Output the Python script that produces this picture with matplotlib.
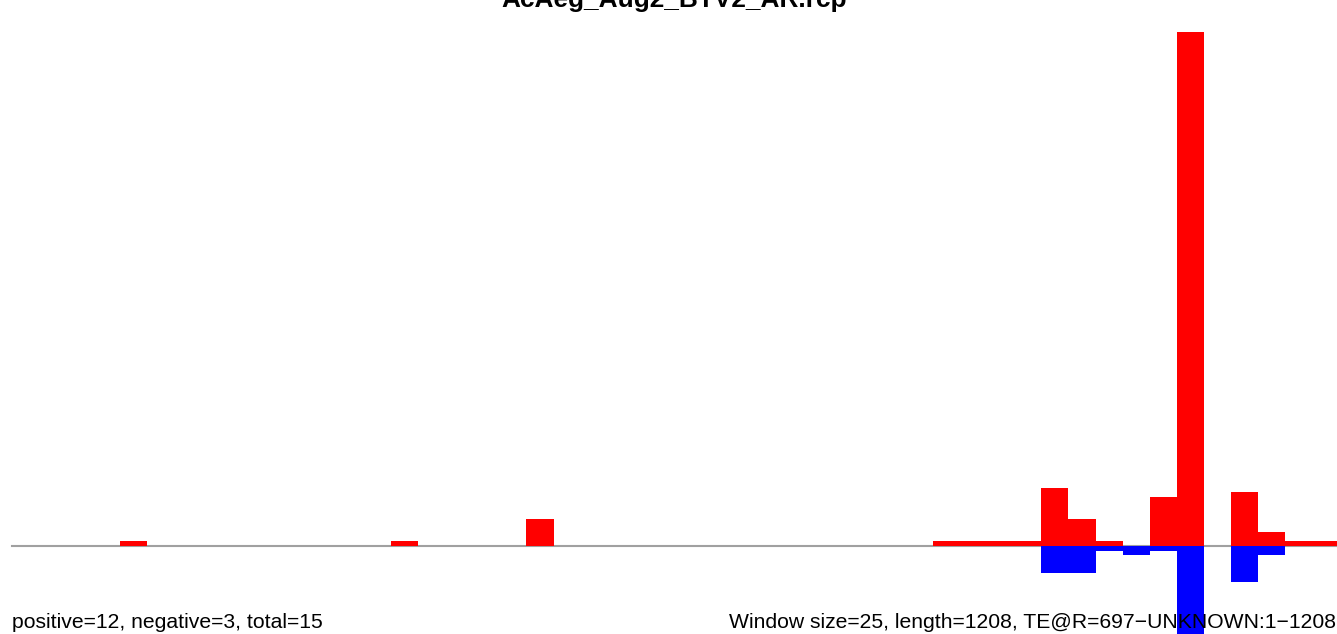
import numpy as np
import matplotlib
matplotlib.use("Agg")
import matplotlib.pyplot as plt

plt.rcParams['font.family'] = ['Liberation Sans', 'DejaVu Sans']

titel = "AcAeg_Aug2_BTV2_AR.rcp"
okno = 25
dlugosc = 1208

# indeksy okien (po 25 bp) i wartosci slupkow
okna_plus = [4, 14, 19, 34, 35, 36, 37, 38, 39, 40, 42, 43, 45, 46, 47, 48]
wart_plus = [1.1, 1.1, 6, 1.1, 1.1, 1.1, 1.1, 13, 6, 1.1, 11, 115, 12, 3.1, 1.1, 1.1]
okna_minus = [38, 39, 40, 41, 42, 43, 45, 46]
wart_minus = [6, 6, 1.1, 2, 1.1, 25, 8, 2]

tekst_lewy = "positive=12, negative=3, total=15"
tekst_prawy = "Window size=25, length=1208, TE@R=697\u2212UNKNOWN:1\u22121208"

fig = plt.figure(figsize=(13.37, 6.34), dpi=100)
ax = fig.add_axes([0, 0, 1, 1])
ax.axis("off")

x_plus = np.array(okna_plus) * okno
x_minus = np.array(okna_minus) * okno
ax.plot([0, 1300], [0, 0], color="#a0a0a0", lw=1.5, zorder=1)
ax.bar(x_plus, wart_plus, width=okno, align="edge", color="red", zorder=2)
ax.bar(x_minus, -np.array(wart_minus), width=okno, align="edge", color="blue", zorder=2)

# skala: 1.084 px na bp, 4.47 px na jednostke
ax.set_xlim(-10.7, (1337 - 11.6) / 1.084)
ax.set_ylim(-(634 - 546) / 4.47, 546 / 4.47)

fig.text(674 / 1337, 1 - 7.3 / 634, titel, ha="center", va="baseline",
         fontsize=18.9, fontweight="bold")
fig.text(12 / 1337, 1 - 628.5 / 634, tekst_lewy, ha="left", va="baseline",
         fontsize=15.2, zorder=5)
fig.text(729 / 1337, 1 - 628.5 / 634, tekst_prawy, ha="left", va="baseline",
         fontsize=15.2, zorder=5)

plt.savefig("out.png", dpi=100)
